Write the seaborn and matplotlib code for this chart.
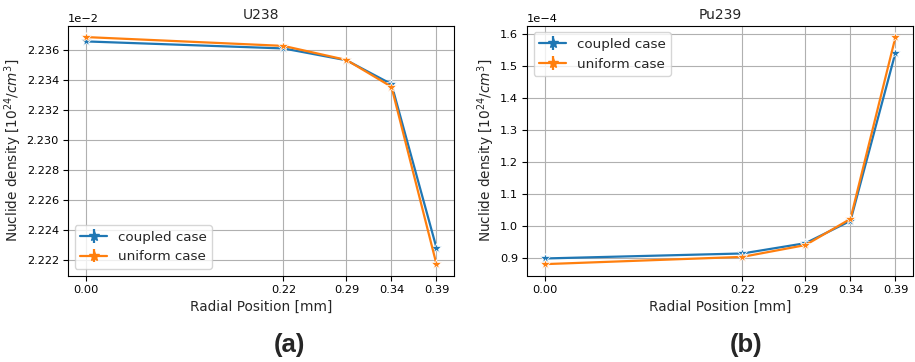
import numpy as np
import pandas as pd
import matplotlib
matplotlib.use("Agg")
import matplotlib.pyplot as plt
import seaborn as sns

radial = [0.0, 0.22, 0.29, 0.34, 0.39]
tick_labels = ["0.00", "0.22", "0.29", "0.34", "0.39"]
u238_coupled = [2.23658e-2, 2.23611e-2, 2.23532e-2, 2.23373e-2, 2.22280e-2]
u238_uniform = [2.23687e-2, 2.23628e-2, 2.23534e-2, 2.23355e-2, 2.22171e-2]
pu239_coupled = [0.900e-4, 0.9156e-4, 0.9477e-4, 1.0173e-4, 1.542e-4]
pu239_uniform = [0.8823e-4, 0.905e-4, 0.9418e-4, 1.0235e-4, 1.5906e-4]
series_names = ["coupled case", "uniform case"]
titles = ["U238", "Pu239"]
panel_labels = ["(a)", "(b)"]

sns.set_theme(style="ticks", rc={
    "axes.grid": True, "grid.color": "#b0b0b0", "grid.linewidth": 0.8,
    "axes.edgecolor": "black", "axes.linewidth": 0.8,
    "xtick.color": "black", "ytick.color": "black",
    "xtick.labelsize": 8.2, "ytick.labelsize": 8.2,
    "axes.labelsize": 9.8, "axes.titlesize": 10,
    "legend.fontsize": 9.7, "font.size": 8.2,
})
plt.rcParams["font.family"] = ["DejaVu Sans"]
colors = ["#1f77b4", "#ff7f0e"]

fig = plt.figure(figsize=(9.15, 3.62), dpi=100)
ax1 = fig.add_axes([68/915, 1-275.5/362, (454-68)/915, (275.5-25.7)/362])
ax2 = fig.add_axes([527/915, 1-275.5/362, (913-527)/915, (275.5-25.7)/362])

datasets = [(u238_coupled, u238_uniform), (pu239_coupled, pu239_uniform)]
for ax, (c, u), title, loc in zip([ax1, ax2], datasets, titles, ["lower left", "upper left"]):
    df = pd.DataFrame({
        "r": radial * 2,
        "val": c + u,
        "case": [series_names[0]] * len(c) + [series_names[1]] * len(u),
    })
    sns.lineplot(data=df, x="r", y="val", hue="case", palette=colors,
                 marker="*", markersize=7.5, markeredgewidth=0.5, linewidth=1.6,
                 ax=ax, legend=False)
    handles = []
    for col, name in zip(colors, series_names):
        h = ax.errorbar([np.nan], [np.nan], yerr=[np.nan], fmt="-*", color=col,
                        label=name, linewidth=1.6, markersize=7.5)
        handles.append(h)
    ax.legend(handles=handles, labels=series_names, loc=loc, framealpha=0.8,
              edgecolor="#cccccc", fancybox=True)
    ax.set_xticks(radial)
    ax.set_xticklabels(tick_labels)
    ax.ticklabel_format(axis="y", style="sci", scilimits=(0, 0), useOffset=False)
    ax.set_title(title, pad=5)
    ax.set_xlabel("Radial Position [mm]", labelpad=4)
    ax.set_ylabel(r"Nuclide density [$10^{24}/cm^3$]", labelpad=2)
    ax.tick_params(length=3.5, width=0.8, direction="out", pad=3)
    ax.set_axisbelow(True)

ax2.set_yticks(np.arange(0.9e-4, 1.61e-4, 0.1e-4))
ax1.set_yticks(np.arange(2.222e-2, 2.2361e-2, 0.002e-2))

for lab, xc in zip(panel_labels, [289, 746]):
    fig.text(xc/915, 1-345/362, lab, ha="center", va="center",
             fontsize=18.5, fontweight="bold", family=["Liberation Sans", "DejaVu Sans"])

fig.savefig("out.png", dpi=100)
